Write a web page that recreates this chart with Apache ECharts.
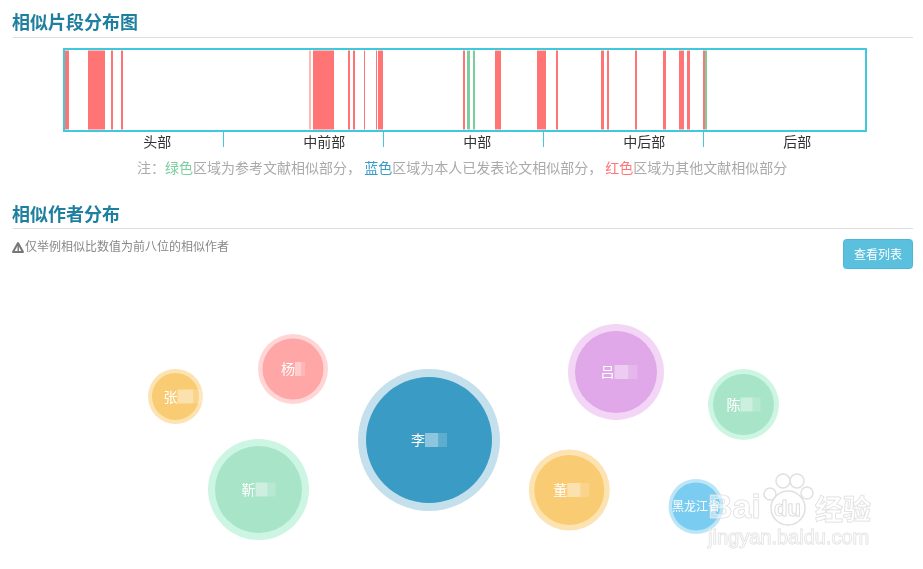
<!DOCTYPE html>
<html>
<head>
<meta charset="utf-8">
<title>相似片段分布图</title>
<script src="https://cdn.jsdelivr.net/npm/echarts@6/dist/echarts.min.js"></script>
<style>
  html, body { margin: 0; padding: 0; background: #fff; }
  #main { width: 923px; height: 569px; }
</style>
</head>
<body>
<div id="main"></div>
<script>
// fragment positions along the paper, [start, end]
const redSegments = [[1, 5], [24, 41], [47, 49], [57, 59], [245.5, 246.5], [249, 270], [284, 286], [289, 291],
  [300, 301], [312, 313], [314, 319], [399, 401], [431, 437], [473, 482], [492, 494], [537, 540], [543, 545],
  [571, 573], [599, 602], [615, 620], [623, 626], [639, 641]];
const greenSegments = [[403, 406], [409, 411], [641, 643]];

const sectionLabels = ["头部", "中前部", "中部", "中后部", "后部"];
const sectionTicks = [160, 320, 480, 640];
const sectionCentres = [80, 240, 400, 560, 720];

// similar authors: visible part of name, bubble place and size
const authorNames = ["李", "靳", "吕", "董", "杨", "陈", "张", "黑龙江省"];
const authorX = [429, 258.5, 616, 569.3, 293, 743.5, 175.5, 696];
const authorY = [440, 489.5, 372, 490, 369, 404.5, 396.5, 506.5];
const authorSize = [126, 87, 82, 70, 61, 61, 47, 48];
const authorHalo = [142, 101, 96, 81, 70, 71, 55, 55];
const authorColors = ["#3a9bc4", "#a8e4c8", "#e0a8e8", "#f9cb73", "#ffa6a6", "#a8e4c8", "#f9cb73", "#7accf0"];
const authorHaloColors = ["#c3e0ec", "#cdf5e3", "#f3d6f6", "#fde3b2", "#ffd5d5", "#cdf5e3", "#fde3b2", "#bce6f8"];
// blurred rest of each name, width of the patch and how far the label sits off centre
const authorMaskWidth = [22, 20, 23, 22, 10, 20, 26, 0];
const authorLabelShift = [0, 0, 3, 2, 0, 0, 8, 0];

const FONT = '"Noto Sans CJK SC", "Noto Sans", sans-serif';
const FRAME = "#40c8dc";

function segmentSeries(name, data, color) {
  return {
    name: name,
    type: "custom",
    xAxisIndex: 0,
    yAxisIndex: 0,
    data: data,
    encode: { x: [0, 1] },
    renderItem: function (params, api) {
      const a = api.coord([api.value(0), 0]);
      const b = api.coord([api.value(1), 1]);
      return {
        type: "rect",
        shape: { x: a[0], y: b[1], width: b[0] - a[0], height: a[1] - b[1] },
        style: { fill: color },
      };
    },
  };
}

function heading(text, y, lineY) {
  return [
    {
      type: "text",
      left: 12,
      top: y,
      style: { text: text, font: "bold 18px " + FONT, fill: "#1f7f9f" },
    },
    {
      type: "rect",
      shape: { x: 13, y: lineY, width: 900, height: 1 },
      style: { fill: "#dddddd" },
    },
  ];
}

const pawStyle = { fill: "rgba(255,255,255,0.35)", stroke: "#e0e0e0", lineWidth: 1.5 };
const paw = [[783, 481, 7], [797, 481, 7], [770, 494, 6], [807, 493, 6], [788, 508, 17]].map(function (c) {
  return { type: "circle", shape: { cx: c[0], cy: c[1], r: c[2] }, style: pawStyle, z: 20 };
});

const chart = echarts.init(document.getElementById("main"));
chart.setOption({
  animation: false,
  backgroundColor: "#fff",
  grid: [
    { left: 64, top: 49, width: 802, height: 82 },
    { left: 63.3, top: 132, width: 800, height: 0 },
    { left: 0, top: 0, width: 923, height: 569 },
  ],
  xAxis: [
    { gridIndex: 0, type: "value", min: 0, max: 802, show: false },
    {
      gridIndex: 1,
      type: "value",
      min: 0,
      max: 800,
      axisLine: { show: false },
      splitLine: { show: false },
      axisTick: { show: false },
      axisLabel: {
        customValues: sectionCentres,
        formatter: function (v) { return sectionLabels[sectionCentres.indexOf(v)]; },
        align: "left",
        margin: 3,
        color: "#333",
        fontSize: 14,
        fontFamily: FONT,
      },
    },
    { gridIndex: 2, type: "value", min: 0, max: 923, show: false },
  ],
  yAxis: [
    { gridIndex: 0, type: "value", min: -0.02, max: 1.02, show: false },
    { gridIndex: 1, type: "value", show: false },
    { gridIndex: 2, type: "value", min: 0, max: 569, inverse: true, show: false },
  ],
  series: [
    segmentSeries("其他文献", redSegments, "#ff7575"),
    segmentSeries("参考文献", greenSegments, "#7bcf9e"),
    {
      name: "分段",
      type: "custom",
      xAxisIndex: 1,
      yAxisIndex: 1,
      clip: false,
      data: sectionTicks,
      encode: { x: 0 },
      renderItem: function (params, api) {
        const p = api.coord([api.value(0), 0]);
        return {
          type: "rect",
          shape: { x: Math.floor(p[0]), y: 132, width: 1, height: 15 },
          style: { fill: FRAME },
        };
      },
    },
    {
      name: "光晕",
      type: "scatter",
      xAxisIndex: 2,
      yAxisIndex: 2,
      clip: false,
      silent: true,
      symbolSize: function (v) { return v[2]; },
      data: authorNames.map(function (name, i) {
        return {
          value: [authorX[i], authorY[i], authorHalo[i]],
          itemStyle: { color: authorHaloColors[i], opacity: 1 },
        };
      }),
    },
    {
      name: "相似作者",
      type: "scatter",
      xAxisIndex: 2,
      yAxisIndex: 2,
      clip: false,
      symbolSize: function (v) { return v[2]; },
      data: authorNames.map(function (name, i) {
        const w = authorMaskWidth[i];
        return {
          name: name,
          value: [authorX[i], authorY[i], authorSize[i]],
          itemStyle: { color: authorColors[i], opacity: 1 },
          label: {
            offset: [authorLabelShift[i], 0],
            formatter: w ? "{n|" + name + "}{m|}{f|}" : "{t|" + name + "}",
            rich: {
              n: { color: "#fff", fontSize: 14, fontFamily: FONT },
              t: { color: "#fff", fontSize: 12, fontFamily: FONT },
              m: { width: w * 0.6, height: 14, backgroundColor: "rgba(255,255,255,0.42)" },
              f: { width: w * 0.4, height: 14, backgroundColor: "rgba(255,255,255,0.18)" },
            },
          },
        };
      }),
      label: { show: true, position: "inside" },
    },
  ],
  graphic: heading("相似片段分布图", 13, 37).concat(heading("相似作者分布", 205, 228), [
    {
      type: "rect",
      shape: { x: 64, y: 49, width: 802, height: 82 },
      style: { fill: "none", stroke: FRAME, lineWidth: 2 },
      z: 10,
    },
    {
      type: "text",
      left: 137,
      top: 161,
      style: {
        text: "注：{g|绿色}区域为参考文献相似部分， {b|蓝色}区域为本人已发表论文相似部分， {r|红色}区域为其他文献相似部分",
        font: "14px " + FONT,
        fill: "#aaaaaa",
        rich: {
          g: { fill: "#7bcf9e", font: "14px " + FONT },
          b: { fill: "#3a9bc4", font: "14px " + FONT },
          r: { fill: "#ff7575", font: "14px " + FONT },
        },
      },
    },
    {
      type: "polygon",
      shape: { points: [[13, 252], [18, 243], [23, 252]] },
      style: { fill: "none", stroke: "#777777", lineWidth: 2, lineJoin: "round" },
    },
    {
      type: "rect",
      shape: { x: 17.5, y: 246, width: 1.4, height: 5 },
      style: { fill: "#777777" },
    },
    {
      type: "text",
      left: 25,
      top: 240,
      style: {
        text: "仅举例相似比数值为前八位的相似作者",
        font: "12px " + FONT,
        fill: "#888888",
      },
    },
    {
      type: "rect",
      shape: { x: 843.5, y: 239.5, width: 69, height: 29, r: 3 },
      style: { fill: "#5bc0de", stroke: "#46b8da", lineWidth: 1 },
    },
    {
      type: "text",
      x: 878,
      y: 254,
      style: {
        text: "查看列表",
        font: "12px " + FONT,
        fill: "#fff",
        align: "center",
        verticalAlign: "middle",
      },
    },
    // watermark
    {
      type: "text",
      x: 708,
      y: 509,
      z: 20,
      style: {
        text: "Bai",
        font: "bold 34px Liberation Sans",
        fill: "rgba(255,255,255,0.45)",
        stroke: "#dcdcdc",
        lineWidth: 1,
        verticalAlign: "middle",
      },
    },
  ].concat(paw, [
    {
      type: "text",
      x: 774,
      y: 510,
      z: 21,
      style: {
        text: "du",
        font: "bold 22px Liberation Sans",
        fill: "rgba(255,255,255,0.45)",
        stroke: "#d4d4d4",
        lineWidth: 1,
        verticalAlign: "middle",
      },
    },
    {
      type: "text",
      x: 815,
      y: 509,
      z: 20,
      style: {
        text: "经验",
        font: "bold 28px " + FONT,
        fill: "rgba(255,255,255,0.45)",
        stroke: "#dcdcdc",
        lineWidth: 1,
        verticalAlign: "middle",
      },
    },
    {
      type: "text",
      x: 708,
      y: 538,
      z: 20,
      style: {
        text: "jingyan.baidu.com",
        font: "20px Liberation Sans",
        fill: "rgba(255,255,255,0.45)",
        stroke: "#e0e0e0",
        lineWidth: 1,
        verticalAlign: "middle",
      },
    },
  ])),
});
</script>
</body>
</html>
